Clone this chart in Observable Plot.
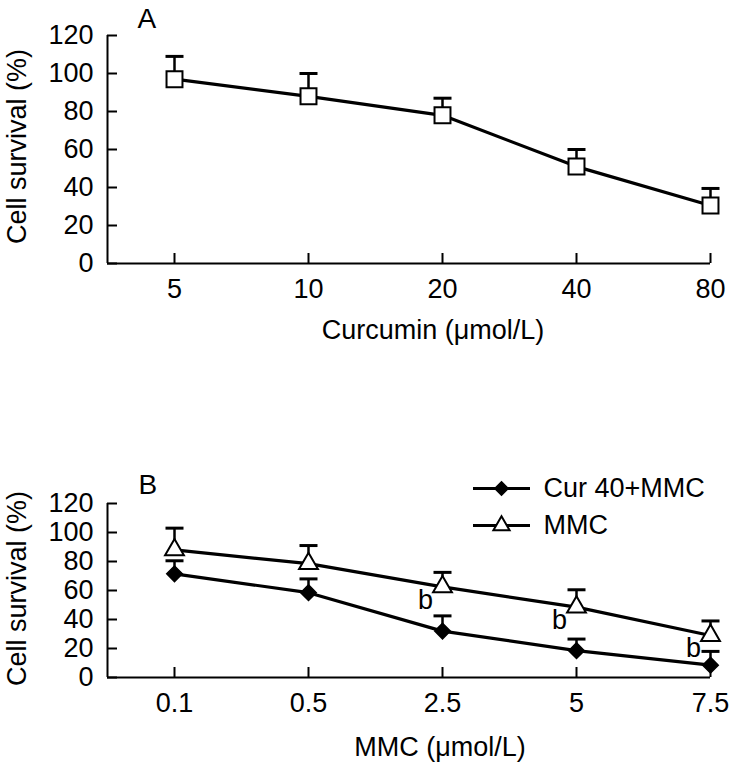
<!DOCTYPE html>
<html>
<head>
<meta charset="utf-8">
<script src="https://cdn.jsdelivr.net/npm/d3@7"></script>
<script src="https://cdn.jsdelivr.net/npm/@observablehq/plot@0.6"></script>
<style>
  html, body { margin: 0; padding: 0; background: white; }
  #chart svg { display: block; }
</style>
</head>
<body>
<div id="chart"></div>
<script>
// ---- Panel A data ----
const curcuminDoses = ["5", "10", "20", "40", "80"];
const curcuminSurvival = [97, 88, 78, 51, 30.5];
const curcuminSd = [12, 12, 9, 9, 9];

// ---- Panel B data ----
const mmcDoses = ["0.1", "0.5", "2.5", "5", "7.5"];
const curMmcSurvival = [71.5, 58.5, 32, 18.5, 8.5];
const curMmcSd = [9, 9.5, 10.5, 8, 9.5];
const mmcSurvival = [88, 78.5, 62.5, 48.5, 29];
const mmcSd = [15, 12.5, 10, 12, 10];
const significantIdx = [2, 3, 4];
const significanceMark = "b";

const yTicks = [0, 20, 40, 60, 80, 100, 120];
const seriesNames = ["Cur 40+MMC", "MMC"];

const rowsA = curcuminDoses.map((d, i) => ({i, dose: d, v: curcuminSurvival[i], sd: curcuminSd[i]}));
const rowsCur = mmcDoses.map((d, i) => ({i, dose: d, v: curMmcSurvival[i], sd: curMmcSd[i]}));
const rowsMmc = mmcDoses.map((d, i) => ({i, dose: d, v: mmcSurvival[i], sd: mmcSd[i]}));

const capSymbol = {draw(ctx) { ctx.moveTo(-9, 0); ctx.lineTo(9, 0); }};
const legendLine = {draw(ctx) { ctx.moveTo(-28.5, 0); ctx.lineTo(28.5, 0); }};

const FONT = "'Liberation Sans', Arial, sans-serif";

function axes(labels) {
  const idx = d3.range(labels.length);
  return [
    Plot.axisY({ticks: yTicks, tickSize: 0, tickPadding: 14, label: null, fontSize: 27}),
    Plot.axisY({ticks: yTicks, tickSize: 10, dx: 10, tickFormat: () => "", label: null, strokeWidth: 2}),
    Plot.axisX({ticks: idx, tickSize: 0, tickPadding: 15, tickFormat: i => labels[i], label: null, fontSize: 27}),
    Plot.axisX({ticks: idx, tickSize: 10, dy: -10, tickFormat: () => "", label: null, strokeWidth: 2}),
    Plot.ruleX([-0.5], {strokeWidth: 2}),
    Plot.ruleY([0], {strokeWidth: 2})
  ];
}

function series(rows, symbol, r, fill, sw) {
  return [
    Plot.line(rows, {x: "i", y: "v", strokeWidth: 3.2}),
    Plot.ruleX(rows, {x: "i", y1: "v", y2: d => d.v + d.sd, strokeWidth: 2.5}),
    Plot.dot(rows, {x: "i", y: d => d.v + d.sd, symbol: capSymbol, stroke: "black", strokeWidth: 3}),
    Plot.dot(rows, {x: "i", y: "v", symbol, r, fill, stroke: "black", strokeWidth: sw})
  ];
}

const common = {
  width: 729, height: 381, marginLeft: 107, marginRight: 19,
  style: {fontFamily: FONT, fontSize: "27px", color: "black", background: "white"},
  x: {domain: [-0.5, 4], axis: null},
  y: {domain: [0, 120], axis: null}
};

const plotA = Plot.plot({
  ...common,
  marginTop: 35, marginBottom: 118,
  marks: [
    ...axes(curcuminDoses),
    ...series(rowsA, "square", 9, "white", 2),
    Plot.text(["Cell survival (%)"], {frameAnchor: "left", rotate: -90, textAnchor: "middle", dx: -82, dy: -3, lineAnchor: "bottom", fontSize: 27}),
    Plot.text(["Curcumin (μmol/L)"], {frameAnchor: "bottom", textAnchor: "middle", dx: 24, dy: 75, lineAnchor: "bottom", fontSize: 27}),
    Plot.text(["A"], {frameAnchor: "top-left", textAnchor: "start", dx: 30, dy: -8, lineAnchor: "bottom", fontSize: 28})
  ]
});

const plotB = Plot.plot({
  ...common,
  marginTop: 122, marginBottom: 85,
  marks: [
    ...axes(mmcDoses),
    ...series(rowsMmc, "triangle", 7, "white", 2),
    ...series(rowsCur, "diamond2", 7, "black", 1.5),
    Plot.text(significantIdx, {x: i => i, y: i => mmcSurvival[i], text: () => significanceMark, dx: -17, dy: 22, lineAnchor: "bottom", fontSize: 27}),
    // legend
    Plot.dot([seriesNames[0]], {frameAnchor: "top-right", dx: -209, dy: -15, symbol: legendLine, stroke: "black", strokeWidth: 3}),
    Plot.dot([seriesNames[0]], {frameAnchor: "top-right", dx: -209, dy: -15, symbol: "diamond2", r: 6, fill: "black", stroke: "black", strokeWidth: 1.5}),
    Plot.text([seriesNames[0]], {frameAnchor: "top-right", dx: -167, dy: -15, textAnchor: "start", lineAnchor: "middle", fontSize: 27}),
    Plot.dot([seriesNames[1]], {frameAnchor: "top-right", dx: -209, dy: 22, symbol: legendLine, stroke: "black", strokeWidth: 3}),
    Plot.dot([seriesNames[1]], {frameAnchor: "top-right", dx: -209, dy: 22, symbol: "triangle", r: 6, fill: "white", stroke: "black", strokeWidth: 2}),
    Plot.text([seriesNames[1]], {frameAnchor: "top-right", dx: -167, dy: 22, textAnchor: "start", lineAnchor: "middle", fontSize: 27}),
    Plot.text(["Cell survival (%)"], {frameAnchor: "left", rotate: -90, textAnchor: "middle", dx: -82, dy: -2, lineAnchor: "bottom", fontSize: 27}),
    Plot.text(["MMC (μmol/L)"], {frameAnchor: "bottom", textAnchor: "middle", dx: 31, dy: 78, lineAnchor: "bottom", fontSize: 27}),
    Plot.text(["B"], {frameAnchor: "top-left", textAnchor: "start", dx: 31, dy: -10, lineAnchor: "bottom", fontSize: 28})
  ]
});

document.getElementById("chart").append(plotA, plotB);
</script>
</body>
</html>
